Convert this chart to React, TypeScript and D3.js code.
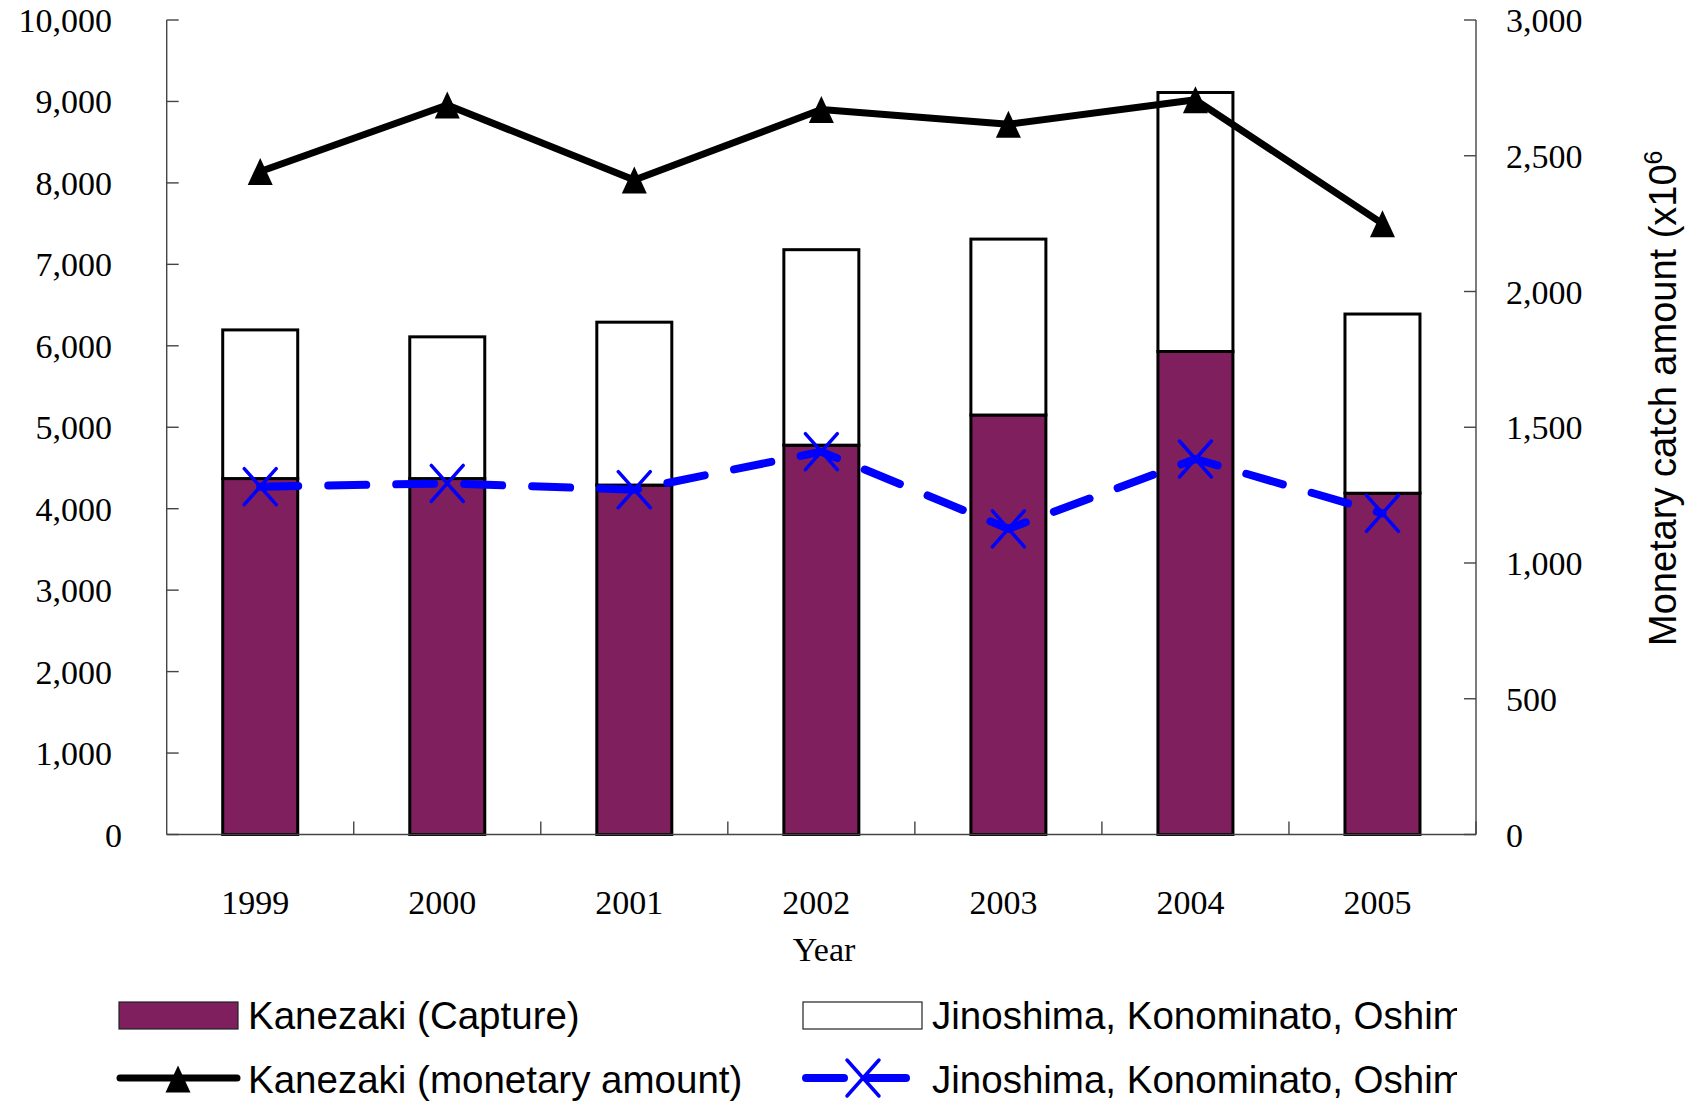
import React from "react";
import * as d3 from "d3";

const years = ["1999", "2000", "2001", "2002", "2003", "2004", "2005"];
const kanezakiCapture = [4370, 4370, 4290, 4780, 5150, 5930, 4190];
const othersCapture = [1825, 1740, 2000, 2400, 2160, 3180, 2200];
const kanezakiMonetary = [2442, 2687, 2411, 2670, 2616, 2706, 2250];
const othersMonetary = [1281, 1293, 1270, 1410, 1126, 1383, 1183];
const leftTicks = [0, 1000, 2000, 3000, 4000, 5000, 6000, 7000, 8000, 9000, 10000];
const rightTicks = [0, 500, 1000, 1500, 2000, 2500, 3000];
const legendLabels = [
  "Kanezaki (Capture)",
  "Jinoshima, Konominato, Oshima (Capture)",
  "Kanezaki (monetary amount)",
  "Jinoshima, Konominato, Oshima (monetary amount)",
];

const W = 1695;
const H = 1102;
const L = 166.7;
const R = 1476;
const T = 20;
const B = 834.5;
const PURPLE = "#801F5E";
const BLUE = "#0000FF";
const SERIF = "'Liberation Serif', 'Times New Roman', serif";
const SANS = "'Liberation Sans', Arial, sans-serif";

const fmt = d3.format(",");

function Triangle({ x, y }: { x: number; y: number }) {
  return <path d={`M${x},${y - 13.5}L${x + 12.5},${y + 13.5}L${x - 12.5},${y + 13.5}Z`} fill="#000" />;
}
function XMark({ x, y }: { x: number; y: number }) {
  return (
    <g stroke={BLUE} strokeWidth={3.5} strokeLinecap="round">
      <line x1={x - 16} y1={y - 18} x2={x + 16} y2={y + 18} />
      <line x1={x + 16} y1={y - 18} x2={x - 16} y2={y + 18} />
    </g>
  );
}

export default function App() {
  const x = d3.scaleBand<string>().domain(years).range([L, R]).paddingInner(0).paddingOuter(0);
  const yL = d3.scaleLinear().domain([0, 10000]).range([B, T]);
  const yR = d3.scaleLinear().domain([0, 3000]).range([B, T]);
  const step = x.step();
  const bw = 75;
  const cx = (d: string) => (x(d) as number) + step / 2;

  const stack = d3.stack<number>().keys(["k", "o"]).value((i, key) => (key === "k" ? kanezakiCapture[i] : othersCapture[i]));
  const series = stack(years.map((_, i) => i));

  const lineGen = d3
    .line<number>()
    .x((_, i) => cx(years[i]))
    .y((v) => yR(v));

  const boundaries = d3.range(1, years.length + 1).map((i) => L + i * step);

  return (
    <svg width={W} height={H} style={{ position: "absolute", left: 0, top: 0, background: "#fff" }}>
      <defs>
        <clipPath id="legclip">
          <rect x={0} y={0} width={1457} height={H} />
        </clipPath>
      </defs>
      <rect x={0} y={0} width={W} height={H} fill="#fff" />
      {series.map((s, si) =>
        s.map((d, i) => (
          <rect
            key={`${si}-${i}`}
            x={cx(years[i]) - bw / 2}
            y={yL(d[1])}
            width={bw}
            height={yL(d[0]) - yL(d[1])}
            fill={si === 0 ? PURPLE : "#fff"}
            stroke="#000"
            strokeWidth={3}
          />
        ))
      )}
      <g stroke="#444" strokeWidth={1.4} fill="none">
        <line x1={L} y1={T} x2={L} y2={B} />
        <line x1={R} y1={T} x2={R} y2={B} />
        <line x1={L} y1={B} x2={R} y2={B} />
        {leftTicks.map((t) => (
          <line key={`lt${t}`} x1={L} x2={L + 12} y1={yL(t)} y2={yL(t)} />
        ))}
        {rightTicks.map((t) => (
          <line key={`rt${t}`} x1={R} x2={R - 12} y1={yR(t)} y2={yR(t)} />
        ))}
        {boundaries.map((b, i) => (
          <line key={`xt${i}`} x1={b} x2={b} y1={B} y2={B - 13} />
        ))}
      </g>
      <g fontFamily={SERIF} fontSize={34} fill="#000">
        {leftTicks.map((t) => (
          <text key={`ll${t}`} x={t === 0 ? 122 : 112} y={yL(t) + 12} textAnchor="end">
            {fmt(t)}
          </text>
        ))}
        {rightTicks.map((t) => (
          <text key={`rl${t}`} x={1506} y={yR(t) + 12} textAnchor="start">
            {fmt(t)}
          </text>
        ))}
        {years.map((yv) => (
          <text key={`xl${yv}`} x={cx(yv) - 5} y={914} textAnchor="middle">
            {yv}
          </text>
        ))}
        <text x={824} y={961} textAnchor="middle">
          Year
        </text>
      </g>
      <text transform="translate(1676,646) rotate(-90)" fontFamily={SANS} fontSize={38} fill="#000">
        Monetary catch amount (x10
        <tspan dy={-14} fontSize={25}>
          6
        </tspan>
      </text>
      <path d={lineGen(kanezakiMonetary) as string} fill="none" stroke="#000" strokeWidth={7} strokeLinejoin="round" />
      {kanezakiMonetary.map((v, i) => (
        <Triangle key={`tri${i}`} x={cx(years[i])} y={yR(v)} />
      ))}
      <path
        d={lineGen(othersMonetary) as string}
        fill="none"
        stroke={BLUE}
        strokeWidth={8}
        strokeDasharray="38,30"
        strokeLinecap="round"
        strokeLinejoin="round"
      />
      {othersMonetary.map((v, i) => (
        <XMark key={`xm${i}`} x={cx(years[i])} y={yR(v)} />
      ))}
      <g clipPath="url(#legclip)">
        <rect x={119} y={1002} width={119} height={27} fill={PURPLE} stroke="#222" strokeWidth={1.2} />
        <text x={248} y={1029} fontFamily={SANS} fontSize={38.5} fill="#000">
          {legendLabels[0]}
        </text>
        <rect x={803} y={1002} width={119} height={27} fill="#fff" stroke="#222" strokeWidth={1.2} />
        <text x={932} y={1029} fontFamily={SANS} fontSize={38.5} fill="#000">
          {legendLabels[1]}
        </text>
        <line x1={120} x2={237} y1={1078} y2={1078} stroke="#000" strokeWidth={7} strokeLinecap="round" />
        <Triangle x={178} y={1079} />
        <text x={248} y={1093} fontFamily={SANS} fontSize={38.5} fill="#000">
          {legendLabels[2]}
        </text>
        <line x1={806} x2={910} y1={1078} y2={1078} stroke={BLUE} strokeWidth={8} strokeDasharray="38,24" strokeLinecap="round" />
        <XMark x={863} y={1078} />
        <text x={932} y={1093} fontFamily={SANS} fontSize={38.5} fill="#000">
          {legendLabels[3]}
        </text>
      </g>
    </svg>
  );
}
